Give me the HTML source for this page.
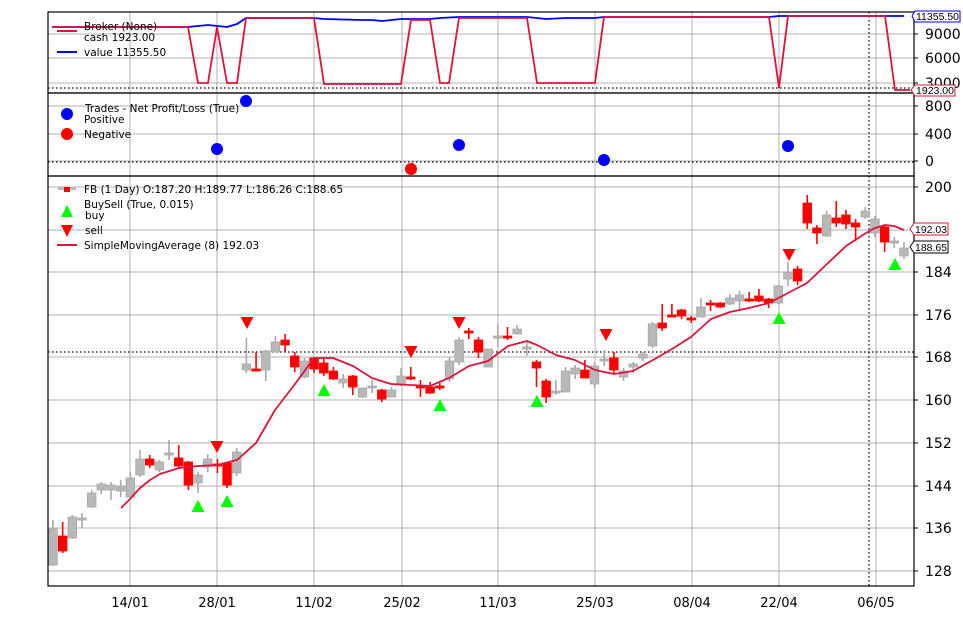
<!DOCTYPE html>
<html><head><meta charset="utf-8"><style>
html,body{margin:0;padding:0;background:#fff;}
svg{display:block;font-family:"DejaVu Sans","Liberation Sans",sans-serif;}
</style></head><body>
<svg id="s" width="963" height="617" viewBox="0 0 963 617" xmlns="http://www.w3.org/2000/svg">
<rect width="963" height="617" fill="#fff"/>
<g id="grid" stroke="#b0b0b0" stroke-width="1"></g>
<g id="plots"></g>
<g id="frames" fill="none" stroke="#000" stroke-width="1.2">
<rect x="48" y="12" width="866" height="81"/>
<rect x="48" y="93" width="866" height="83"/>
<rect x="48" y="176" width="866" height="410"/>
</g>
<g font-size="14" fill="#000">
<text x="925" y="39">9000</text><text x="925" y="63">6000</text><text x="925" y="88">3000</text>
<text x="925" y="111">800</text><text x="925" y="139">400</text><text x="925" y="166">0</text>
<text x="925" y="192">200</text><text x="925" y="277">184</text><text x="925" y="320">176</text>
<text x="925" y="362">168</text><text x="925" y="405">160</text><text x="925" y="448">152</text>
<text x="925" y="491">144</text><text x="925" y="533">136</text><text x="925" y="576">128</text>
</g>
<g font-size="13" fill="#000" text-anchor="middle">
<text x="130" y="607">14/01</text><text x="217" y="607">28/01</text><text x="314" y="607">11/02</text>
<text x="402" y="607">25/02</text><text x="498" y="607">11/03</text><text x="595" y="607">25/03</text>
<text x="692" y="607">08/04</text><text x="779" y="607">22/04</text><text x="876" y="607">06/05</text>
</g>
<g font-size="10.5" fill="#000">
<line x1="57" y1="31" x2="77" y2="31" stroke="#dc143c" stroke-width="2"/>
<line x1="57" y1="52" x2="77" y2="52" stroke="#0000ff" stroke-width="2"/>
<text x="84" y="30">Broker (None)</text><text x="84" y="41">cash 1923.00</text><text x="84" y="56">value 11355.50</text>
<circle cx="67" cy="114" r="6" fill="#0000ff"/><circle cx="67" cy="134" r="6" fill="#ff0000"/>
<text x="85" y="112">Trades - Net Profit/Loss (True)</text><text x="84" y="123">Positive</text><text x="84" y="138">Negative</text>
<rect x="58" y="187" width="6" height="3" fill="#bbb"/><rect x="64" y="187" width="6" height="5" fill="#f00"/><rect x="70" y="187" width="6" height="3" fill="#bbb"/>
<text x="84" y="193">FB (1 Day) O:187.20 H:189.77 L:186.26 C:188.65</text>
<text x="84" y="208">BuySell (True, 0.015)</text><text x="85" y="219">buy</text>
<polygon points="61,217 73,217 67,205" fill="#00ff00"/>
<polygon points="61,225 73,225 67,237" fill="#ff0000"/>
<text x="85" y="234">sell</text>
<line x1="57" y1="245" x2="77" y2="245" stroke="#dc143c" stroke-width="2"/>
<text x="84" y="249">SimpleMovingAverage (8) 192.03</text>
</g>
<g font-size="10" fill="#000" font-family="'Liberation Sans',sans-serif">
<path d="M912,16 L915,11 H960 V22 H915 Z" fill="#fff" stroke="#0000ff"/><text x="916" y="20" textLength="43" lengthAdjust="spacingAndGlyphs">11355.50</text>
<path d="M911,90 L915,85 H955 V96 H915 Z" fill="#fff" stroke="#dc143c"/><text x="916" y="94" textLength="38" lengthAdjust="spacingAndGlyphs">1923.00</text>
<path d="M910,229 L914,223 H948 V235 H914 Z" fill="#fff" stroke="#dc143c"/><text x="915" y="233" textLength="32" lengthAdjust="spacingAndGlyphs">192.03</text>
<path d="M910,247 L914,241 H948 V253 H914 Z" fill="#fff" stroke="#000"/><text x="915" y="251" textLength="32" lengthAdjust="spacingAndGlyphs">188.65</text>
</g>
</svg>
<script>
var NS="http://www.w3.org/2000/svg";
function el(p,t,a){var e=document.createElementNS(NS,t);for(var k in a)e.setAttribute(k,a[k]);p.appendChild(e);return e;}
var g=document.getElementById('grid'),pl=document.getElementById('plots');
[130,217,314,402,498,595,692,779,876].forEach(function(x){el(g,'line',{x1:x,y1:12,x2:x,y2:586});});
[34,58,83,106,134,161,187,230,272,315,357,400,443,486,528,571].forEach(function(y){
 el(g,'line',{x1:48,y1:y,x2:914,y2:y});el(g,'line',{x1:914,y1:y,x2:918,y2:y,stroke:'#000'});});
[[48,88,914,88],[48,162,914,162],[48,352,914,352]].forEach(function(a){el(pl,'line',{x1:a[0],y1:a[1],x2:a[2],y2:a[3],stroke:'#000','stroke-dasharray':'1.5,2.5','stroke-width':1.2});});
el(pl,'line',{x1:869,y1:12,x2:869,y2:586,stroke:'#000','stroke-dasharray':'1.5,2.5','stroke-width':1.2});
el(pl,'polyline',{points:"52,27 188,27 198,26 208,25 227,27 237,24 246,18 314,18 324,19 343,19.5 362,20 372,20 382,21 401,19 430,19 440,18 459,17 527,17 546,19 566,18 595,18 604,17 769,17 779,16 904,16",fill:'none',stroke:'#0000ff','stroke-width':1.8});
el(pl,'polyline',{points:"52,27 188,27 198,83 208,83 217,27 227,83 237,83 246,18 314,18 324,84 401,84 411,20 430,20 440,83 449,83 459,18 527,18 537,83 595,83 604,17 769,17 779,88 788,16 885,16 895,90 910,90",fill:'none',stroke:'#dc143c','stroke-width':1.8});
[[217,149,'#0000ff'],[246,101,'#0000ff'],[411,169,'#ff0000'],[459,145,'#0000ff'],[604,160,'#0000ff'],[788,146,'#0000ff']].forEach(function(d){el(pl,'circle',{cx:d[0],cy:d[1],r:6,fill:d[2]});});
var B=[[520,529,565,566,0],[522,536,551,553,1],[515,517,538,539,0],[513,518,520,528,0],[490,493,507,508,0],[482,484,490,494,0],[482,485,490,500,0],[480,486,491,497,0],[472,478,497,499,0],[450,459,475,477,0],
[455,459,465,468,1],[460,462,470,472,0],[440,453,455,460,0],[445,458,466,468,1],[461,462,485,490,1],[472,475,483,493,0],[454,459,467,472,0],[459,464,466,473,1],[463,463,485,488,1],[448,452,473,476,0],
[338,364,370,373,0],[352,369,371,371,1],[350,351,370,381,0],[336,342,352,352,0],[334,340,345,352,1],[352,356,367,372,1],[358,361,377,378,0],[357,358,369,373,1],[357,363,373,376,1],[367,371,379,380,1],
[374,379,383,388,0],[375,376,387,395,1],[388,388,397,398,0],[380,386,388,393,0],[389,390,399,402,1],[387,390,397,397,0],[368,376,385,386,0],[367,377,379,380,1],[380,386,388,397,1],[382,387,393,394,1],
[383,386,388,390,1],[357,361,379,382,0],[337,340,362,365,0],[328,331,333,339,1],[337,340,352,358,1],[349,349,367,367,0],[324,336,338,347,0],[327,336,338,340,1],[325,329,334,334,0],[342,347,349,356,0],
[360,362,368,387,1],[379,381,397,403,1],[380,391,393,395,0],[367,371,392,392,0],[365,368,374,379,0],[360,370,378,378,1],[362,366,384,388,0],[350,359,361,366,0],[352,358,370,373,1],[368,371,377,381,0],
[362,364,367,373,0],[352,354,358,361,0],[322,324,346,348,0],[304,323,328,331,1],[304,315,317,317,1],[309,310,316,319,1],[316,318,320,323,1],[298,307,317,317,0],[300,303,305,311,1],[302,303,307,308,1],
[294,298,304,305,0],[291,295,301,309,0],[292,299,301,302,1],[289,296,301,302,1],[298,299,303,308,1],[285,286,303,304,0],[262,272,279,286,0],[266,269,281,285,1],[195,203,223,229,1],[225,228,233,244,1],
[211,215,236,237,0],[201,218,223,227,1],[210,215,224,229,1],[219,223,227,241,1],[207,211,217,219,0],[216,219,233,237,0],[225,227,242,252,1],[237,241,243,248,0],[242,248,256,259,0]];
B.forEach(function(b,i){var x=53+i*9.67,c=b[4]?'#ff0000':'#b8b8b8',ec=b[4]?'#ff0000':'#a8a8a8';
 el(pl,'line',{x1:x,y1:b[0],x2:x,y2:b[3],stroke:ec,'stroke-width':1.6});
 var h=Math.max(b[2]-b[1],1.5);el(pl,'rect',{x:x-4.3,y:b[1],width:8.6,height:h,fill:c,stroke:ec,'stroke-width':0.8});});
el(pl,'polyline',{points:"121,508 130,499 140,488 150,480 160,474 179,468 198,466 217,465 237,460 256,443 275,410 295,384 314,358 333,358 353,366 372,378 391,384 411,385 430,386 449,378 469,366 488,361 508,346 527,341 537,345 556,355 575,360 595,370 614,374 633,371 653,360 672,349 691,337 711,319 730,312 749,308 769,303 788,293 807,283 827,264 846,246 866,233 875,228 885,225 894,226 904,230",fill:'none',stroke:'#dc143c','stroke-width':1.8,'stroke-linejoin':'round'});
[[198,506],[227,501],[324,390],[440,405],[537,401],[779,318],[895,264]].forEach(function(p){el(pl,'polygon',{points:(p[0]-6.5)+','+(p[1]+6)+' '+(p[0]+6.5)+','+(p[1]+6)+' '+p[0]+','+(p[1]-6),fill:'#00ff00'});});
[[247,323],[217,447],[411,352],[459,323],[606,335],[789,255]].forEach(function(p){el(pl,'polygon',{points:(p[0]-6.5)+','+(p[1]-6)+' '+(p[0]+6.5)+','+(p[1]-6)+' '+p[0]+','+(p[1]+6),fill:'#ff0000'});});
</script>
</body></html>
